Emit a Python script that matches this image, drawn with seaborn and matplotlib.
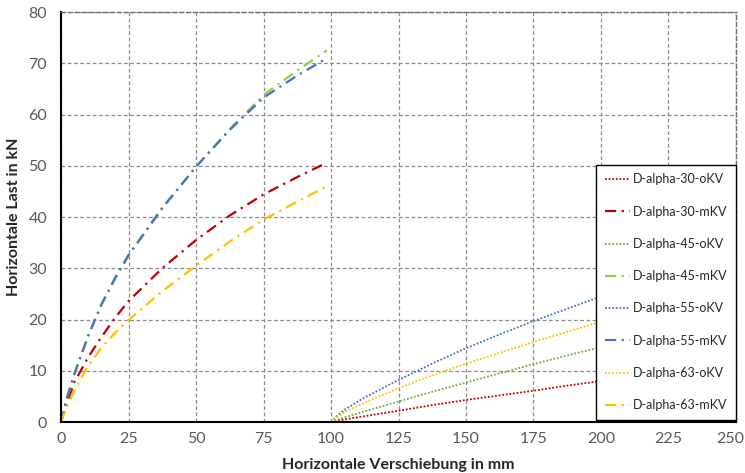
import numpy as np
import matplotlib
matplotlib.use('Agg')
import matplotlib.pyplot as plt
import matplotlib.transforms as mtransforms
import pandas as pd
import seaborn as sns

# mit Kopfverformung (mKV): 0..~100 mm
x_mkv = [0, 2, 5, 10, 15, 20, 25, 37.5, 50, 62.5, 75, 87.5, 98.5]
d30_mkv = [0, 3.5, 7.8, 12.6, 16.6, 20.3, 23.6, 30.0, 35.5, 40.3, 44.4, 47.8, 50.6]
d45_mkv = [0, 4.3, 9.3, 16.6, 22.8, 27.9, 32.4, 41.6, 49.8, 57.2, 63.8, 68.6, 72.5]
d55_mkv = [0, 4.5, 9.5, 16.8, 23.0, 28.1, 32.6, 41.8, 49.8, 57.0, 63.3, 67.6, 71.0]
d63_mkv = [0, 2.8, 6.2, 10.9, 14.5, 17.4, 19.9, 25.5, 30.5, 35.2, 39.5, 43.0, 46.0]

# ohne Kopfverformung (oKV): 100..200 mm
x_okv = [100, 102, 105, 112.5, 125, 137.5, 150, 162.5, 175, 187.5, 200]
d30_okv = [0, 0.2, 0.5, 1.15, 2.2, 3.3, 4.3, 5.2, 6.1, 7.1, 8.0]
d45_okv = [0, 0.4, 0.9, 2.1, 4.0, 5.9, 7.7, 9.5, 11.3, 13.0, 14.6]
d55_okv = [0, 1.1, 2.4, 4.8, 8.2, 11.4, 14.4, 17.1, 19.7, 22.1, 24.5]
d63_okv = [0, 0.9, 1.9, 3.8, 6.6, 9.1, 11.4, 13.5, 15.6, 17.6, 19.6]

series = [
    ('D-alpha-30-oKV', x_okv, d30_okv, '#C00000', 'o'),
    ('D-alpha-30-mKV', x_mkv, d30_mkv, '#C00000', 'm'),
    ('D-alpha-45-oKV', x_okv, d45_okv, '#70AD47', 'o'),
    ('D-alpha-45-mKV', x_mkv, d45_mkv, '#92D050', 'm'),
    ('D-alpha-55-oKV', x_okv, d55_okv, '#4472C4', 'o'),
    ('D-alpha-55-mKV', x_mkv, d55_mkv, '#4472C4', 'm'),
    ('D-alpha-63-oKV', x_okv, d63_okv, '#FFC000', 'o'),
    ('D-alpha-63-mKV', x_mkv, d63_mkv, '#FFC000', 'm'),
]

sns.set_style('white')
plt.rcParams['font.family'] = ['Lato', 'DejaVu Sans']

fig = plt.figure(figsize=(7.45, 4.73), dpi=100)
ax = fig.add_axes([0.0819, 0.1078, 0.906, 0.8668])

for name, xs, ys, col, kind in series:
    df = pd.DataFrame({'x': xs, 'y': ys})
    if kind == 'o':
        ls = (0, (1, 1))
        lw = 1.3
    else:
        ls = (0, (5, 2.5, 1, 2.5))
        lw = 1.6
    sns.lineplot(data=df, x='x', y='y', ax=ax, color=col, lw=lw,
                 linestyle=ls, label=name, sort=False)

ax.set_xlim(0, 250)
ax.set_ylim(0, 80)
ax.set_xticks(np.arange(0, 251, 25))
ax.set_yticks(np.arange(0, 81, 10))
ax.grid(True, color='#8c8c8c', linestyle=(0, (3, 2)), lw=0.9)
ax.tick_params(length=0, labelsize=11.5, labelcolor='#595959')
ax.tick_params(axis='y', pad=10)
ax.tick_params(axis='x', pad=7)

# last x label sits a bit inside the figure edge
last = ax.get_xticklabels()[-1]
last.set_transform(last.get_transform() + mtransforms.ScaledTranslation(-6 / 100, 0, fig.dpi_scale_trans))

for s in ['left', 'bottom']:
    ax.spines[s].set_color('black')
    ax.spines[s].set_linewidth(1.5)
for s in ['top', 'right']:
    ax.spines[s].set_color('#6e6e6e')
    ax.spines[s].set_linestyle((0, (3, 2)))
    ax.spines[s].set_linewidth(1.0)

ax.set_xlabel('Horizontale Verschiebung in mm', fontsize=11.5, fontweight='bold', labelpad=9)
ax.set_ylabel('Horizontale Last in kN', fontsize=11.5, fontweight='bold', labelpad=5)

leg = ax.legend(loc='lower right', bbox_to_anchor=(1.0, 0.005), fontsize=9.0,
                frameon=True, fancybox=False, edgecolor='black', framealpha=1,
                handlelength=2.0, labelspacing=1.62, borderpad=0.7,
                handletextpad=0.2, borderaxespad=0)
leg.get_frame().set_linewidth(1.0)

fig.savefig('out.png', dpi=100)
